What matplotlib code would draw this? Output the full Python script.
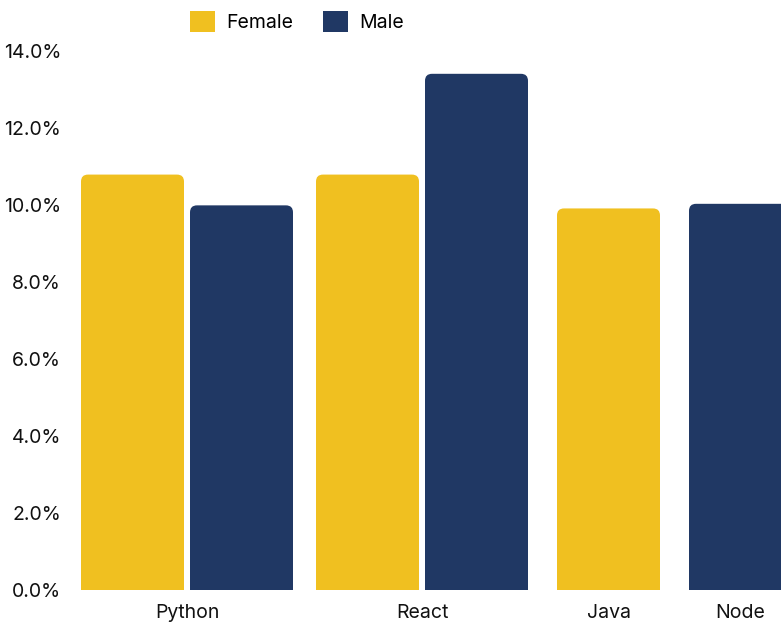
"""Grouped bar chart: share of Female / Male by technology."""

import matplotlib

matplotlib.use("Agg")
import matplotlib.pyplot as plt
from matplotlib.patches import FancyBboxPatch, Patch
from matplotlib.ticker import FuncFormatter

categories = ["Python", "React", "Java", "Node"]
female = [10.8, 10.8, 9.92, None]
male = [10.0, 13.42, None, 10.04]

series = [("Female", female, "#F0C020"), ("Male", male, "#203864")]

plt.rcParams["font.family"] = ["Inter", "DejaVu Sans"]

W, H, DPI = 781, 624, 100
fig = plt.figure(figsize=(W / DPI, H / DPI), dpi=DPI)
ax = fig.add_axes([75 / W, 1 - 590 / H, 1 - 75 / W, 538.5 / H])

# layout in pixel units along x
bar_w, inner_gap, start = 103, 6, 81
group_gaps = [23, 29, 29]
ymax = 14
y_per_px = ymax / 538.5
radius_px = 7

x = start
centers = []
for i, cat in enumerate(categories):
    g_start = x
    for name, vals, color in series:
        v = vals[i]
        if v is None:
            continue
        box = FancyBboxPatch(
            (x, -radius_px * y_per_px), bar_w, v + radius_px * y_per_px,
            boxstyle=f"round,pad=0,rounding_size={radius_px}",
            mutation_aspect=y_per_px, facecolor=color, edgecolor="none",
        )
        ax.add_patch(box)
        x += bar_w + inner_gap
    x -= inner_gap
    centers.append((g_start + x) / 2)
    if i < len(group_gaps):
        x += group_gaps[i]

ax.set_xlim(75, W)
ax.set_ylim(0, ymax)
ax.set_yticks(range(0, 15, 2))
ax.yaxis.set_major_formatter(FuncFormatter(lambda v, _: f"{v:.1f}%"))
ax.set_xticks(centers)
ax.set_xticklabels(categories)
ax.tick_params(axis="both", length=0, labelsize=14, colors="#111111")
ax.tick_params(axis="y", pad=10)
ax.tick_params(axis="x", pad=10)
for s in ax.spines.values():
    s.set_visible(False)

handles = [Patch(facecolor=c, edgecolor="none", label=n) for n, _, c in series]
fig.legend(handles=handles, loc="upper center", bbox_to_anchor=(297 / W, 1.01),
           ncol=2, frameon=False, fontsize=14, handlelength=1.3,
           handleheight=1.3, handletextpad=0.6, columnspacing=1.5)

fig.savefig("out.png", dpi=DPI)
